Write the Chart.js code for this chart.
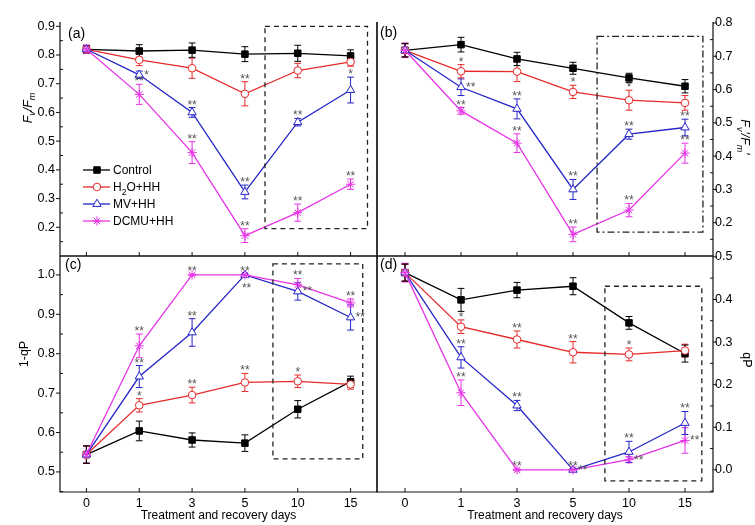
<!DOCTYPE html>
<html>
<head>
<meta charset="utf-8">
<script src="https://cdn.jsdelivr.net/npm/chart.js@4.4.1/dist/chart.umd.min.js"></script>
<style>
  html, body { margin: 0; padding: 0; background: #fff; }
  #wrap { position: relative; width: 755px; height: 525px; }
  #wrap canvas { position: absolute; left: 0; top: 0; }
</style>
</head>
<body>
<div id="wrap">
  <canvas id="pa" width="755" height="525"></canvas>
  <canvas id="pb" width="755" height="525"></canvas>
  <canvas id="pc" width="755" height="525"></canvas>
  <canvas id="pd" width="755" height="525"></canvas>
</div>
<script>
const days = ['0', '1', '3', '5', '10', '15'];
const seriesNames = ['Control', 'H2O+HH', 'MV+HH', 'DCMU+HH'];

// (a) Fv/Fm
const fvfmControl = [0.820, 0.814, 0.817, 0.803, 0.806, 0.797];
const fvfmH2O     = [0.820, 0.783, 0.754, 0.665, 0.746, 0.776];
const fvfmMV      = [0.820, 0.731, 0.600, 0.323, 0.566, 0.678];
const fvfmDCMU    = [0.820, 0.663, 0.460, 0.171, 0.251, 0.350];
const fvfmControlErr = [0.012, 0.022, 0.025, 0.026, 0.028, 0.021];
const fvfmH2OErr     = [0.012, 0.020, 0.035, 0.042, 0.025, 0.015];
const fvfmMVErr      = [0.012, 0.013, 0.017, 0.024, 0.013, 0.045];
const fvfmDCMUErr    = [0.015, 0.035, 0.038, 0.024, 0.030, 0.018];
const fvfmH2OSig  = ['', '', '', '**', '', ''];
const fvfmMVSig   = ['', '*', '**', '**', '**', '*'];
const fvfmDCMUSig = ['', '**', '**', '**', '**', '**'];
const fvfmTicks = [0.2, 0.3, 0.4, 0.5, 0.6, 0.7, 0.8, 0.9];

// (b) Fv'/Fm'
const fvfmpControl = [0.718, 0.735, 0.692, 0.664, 0.635, 0.610];
const fvfmpH2O     = [0.718, 0.655, 0.654, 0.593, 0.568, 0.560];
const fvfmpMV      = [0.718, 0.607, 0.542, 0.300, 0.466, 0.486];
const fvfmpDCMU    = [0.718, 0.536, 0.439, 0.165, 0.238, 0.409];
const fvfmpControlErr = [0.020, 0.022, 0.020, 0.018, 0.014, 0.020];
const fvfmpH2OErr     = [0.020, 0.020, 0.030, 0.020, 0.030, 0.022];
const fvfmpMVErr      = [0.020, 0.025, 0.030, 0.030, 0.015, 0.025];
const fvfmpDCMUErr    = [0.022, 0.010, 0.028, 0.022, 0.020, 0.030];
const fvfmpH2OSig  = ['', '*', '', '*', '*', ''];
const fvfmpMVSig   = ['', '**', '**', '**', '**', '**'];
const fvfmpDCMUSig = ['', '**', '**', '**', '**', '**'];
const fvfmpTicks = [0.2, 0.3, 0.4, 0.5, 0.6, 0.7, 0.8];

// (c) 1-qP
const oneqpControl = [0.544, 0.604, 0.581, 0.573, 0.659, 0.729];
const oneqpH2O     = [0.544, 0.669, 0.695, 0.727, 0.730, 0.722];
const oneqpMV      = [0.544, 0.742, 0.854, 1.000, 0.958, 0.892];
const oneqpDCMU    = [0.544, 0.820, 1.000, 1.000, 0.975, 0.929];
const oneqpControlErr = [0.022, 0.025, 0.018, 0.021, 0.022, 0.014];
const oneqpH2OErr     = [0.022, 0.017, 0.020, 0.023, 0.016, 0.012];
const oneqpMVErr      = [0.022, 0.028, 0.035, 0.003, 0.022, 0.032];
const oneqpDCMUErr    = [0.022, 0.030, 0.002, 0.002, 0.016, 0.010];
const oneqpH2OSig  = ['', '*', '**', '**', '*', ''];
const oneqpMVSig   = ['', '**', '**', '**', '**', '**'];
const oneqpDCMUSig = ['', '**', '**', '**', '**', '**'];
const oneqpTicks = [0.5, 0.6, 0.7, 0.8, 0.9, 1.0];

// (d) qP
const qpControl = [0.463, 0.399, 0.422, 0.431, 0.345, 0.273];
const qpH2O     = [0.463, 0.336, 0.306, 0.276, 0.271, 0.280];
const qpMV      = [0.463, 0.264, 0.151, 0.000, 0.042, 0.110];
const qpDCMU    = [0.463, 0.181, 0.000, 0.000, 0.024, 0.069];
const qpControlErr = [0.020, 0.027, 0.018, 0.020, 0.015, 0.020];
const qpH2OErr     = [0.020, 0.016, 0.020, 0.025, 0.015, 0.015];
const qpMVErr      = [0.020, 0.025, 0.012, 0.003, 0.025, 0.027];
const qpDCMUErr    = [0.022, 0.030, 0.002, 0.003, 0.007, 0.030];
const qpH2OSig  = ['', '*', '**', '**', '*', ''];
const qpMVSig   = ['', '**', '**', '**', '**', '**'];
const qpDCMUSig = ['', '**', '**', '**', '**', '**'];
const qpTicks = [0.0, 0.1, 0.2, 0.3, 0.4, 0.5];

const noSig = ['', '', '', '', '', ''];
const FONT = '"Liberation Sans", Arial, Helvetica, sans-serif';

Chart.defaults.font.family = FONT;
Chart.defaults.color = '#000';

const styles = [
  { color: '#000000', point: 'rect', radius: 4.6, fill: '#000000' },
  { color: '#e62a2a', point: 'circle', radius: 3.8, fill: '#ffffff' },
  { color: '#2424c8', point: 'triangle', radius: 4.8, fill: '#ffffff' },
  { color: '#e633e6', point: 'star', radius: 4.6, fill: '#e633e6' }
];

const italicParts = s => s.map(p => Object.assign({ it: true }, p));

const panels = [
  {
    id: 'pa', side: 'left', showX: false,
    area: { left: 60, top: 22, right: 377, bottom: 256 },
    values: [fvfmControl, fvfmH2O, fvfmMV, fvfmDCMU],
    errors: [fvfmControlErr, fvfmH2OErr, fvfmMVErr, fvfmDCMUErr],
    sigs: [noSig, fvfmH2OSig, fvfmMVSig, fvfmDCMUSig],
    sigSide: { 2: { 1: 'r' } },
    yTicks: fvfmTicks, yMin: 0.1, yMax: 0.915,
    box: [3.38, 5.32, 0.195, 0.9], dash: [5, 4],
    label: '(a)', labelAt: [68, 34],
    title: italicParts([{ t: 'F' }, { t: 'v', sub: true }, { t: '/' }, { t: 'F' }, { t: 'm', sub: true }]),
    titleAt: [27, 108], legend: true
  },
  {
    id: 'pb', side: 'right', showX: false,
    area: { left: 377, top: 22, right: 713, bottom: 256 },
    values: [fvfmpControl, fvfmpH2O, fvfmpMV, fvfmpDCMU],
    errors: [fvfmpControlErr, fvfmpH2OErr, fvfmpMVErr, fvfmpDCMUErr],
    sigs: [noSig, fvfmpH2OSig, fvfmpMVSig, fvfmpDCMUSig],
    sigSide: { 2: { 1: 'r' } },
    yTicks: fvfmpTicks, yMin: 0.1, yMax: 0.803,
    box: [3.43, 5.32, 0.172, 0.76], dash: [7, 3, 2, 3],
    label: '(b)', labelAt: [380, 33],
    title: italicParts([{ t: 'F' }, { t: 'v', sub: true }, { t: '\u2032' }, { t: '/' }, { t: 'F' }, { t: 'm', sub: true }, { t: '\u2032' }]),
    titleAt: [745, 137]
  },
  {
    id: 'pc', side: 'left', showX: true,
    area: { left: 60, top: 256, right: 377, bottom: 492 },
    values: [oneqpControl, oneqpH2O, oneqpMV, oneqpDCMU],
    errors: [oneqpControlErr, oneqpH2OErr, oneqpMVErr, oneqpDCMUErr],
    sigs: [noSig, oneqpH2OSig, oneqpMVSig, oneqpDCMUSig],
    sigSide: { 2: { 3: 'b', 4: 'r', 5: 'r' } },
    yTicks: oneqpTicks, yMin: 0.449, yMax: 1.048,
    box: [3.53, 5.23, 0.533, 1.028], dash: [5, 4],
    label: '(c)', labelAt: [65, 265],
    title: [{ t: '1-qP' }],
    titleAt: [23, 354]
  },
  {
    id: 'pd', side: 'right', showX: true,
    area: { left: 377, top: 256, right: 713, bottom: 492 },
    values: [qpControl, qpH2O, qpMV, qpDCMU],
    errors: [qpControlErr, qpH2OErr, qpMVErr, qpDCMUErr],
    sigs: [noSig, qpH2OSig, qpMVSig, qpDCMUSig],
    sigSide: { 3: { 3: 'r', 4: 'r', 5: 'r' } },
    yTicks: qpTicks, yMin: -0.052, yMax: 0.502,
    box: [3.57, 5.3, -0.026, 0.431], dash: [5, 4],
    label: '(d)', labelAt: [380, 265],
    title: [{ t: 'qP' }],
    titleAt: [747, 360]
  }
];

// text with italic / subscript pieces, drawn around (0,0)
function richText(ctx, parts, size, align) {
  const fonts = parts.map(p => (p.it ? 'italic ' : '') + (p.sub ? size * 0.72 : size) + 'px ' + FONT);
  const widths = parts.map((p, i) => { ctx.font = fonts[i]; return ctx.measureText(p.t).width; });
  const total = widths.reduce((a, b) => a + b, 0);
  let x = align === 'left' ? 0 : -total / 2;
  ctx.textAlign = 'left';
  ctx.textBaseline = 'alphabetic';
  parts.forEach((p, i) => {
    ctx.font = fonts[i];
    ctx.fillText(p.t, x, size * 0.36 + (p.sub ? size * 0.3 : 0));
    x += widths[i];
  });
}

function drawMarker(ctx, st, x, y) {
  ctx.save();
  ctx.strokeStyle = st.color;
  ctx.fillStyle = st.fill;
  ctx.lineWidth = 1;
  Chart.helpers.drawPoint(ctx, { pointStyle: st.point, radius: st.radius, borderWidth: 1, rotation: 0 }, x, y);
  ctx.restore();
}

function panelPlugin(p) {
  return {
    id: 'panelExtras',
    beforeDatasetsDraw(chart) {
      // error bars under the markers
      const ctx = chart.ctx;
      const ys = chart.scales.y;
      ctx.save();
      ctx.lineWidth = 1;
      for (let i = p.values.length - 1; i >= 0; i--) {
        const meta = chart.getDatasetMeta(i);
        ctx.strokeStyle = styles[i].color;
        p.values[i].forEach((v, j) => {
          const e = p.errors[i][j];
          const x = meta.data[j].x;
          const t = ys.getPixelForValue(v + e);
          const b = ys.getPixelForValue(v - e);
          ctx.beginPath();
          ctx.moveTo(x, t); ctx.lineTo(x, b);
          ctx.moveTo(x - 3.4, t); ctx.lineTo(x + 3.4, t);
          ctx.moveTo(x - 3.4, b); ctx.lineTo(x + 3.4, b);
          ctx.stroke();
        });
      }
      ctx.restore();
    },
    afterDatasetsDraw(chart) {
      const ctx = chart.ctx;
      const xs = chart.scales.x;
      const ys = chart.scales.y;
      const a = p.area;
      ctx.save();

      // frame
      ctx.strokeStyle = '#111';
      ctx.lineWidth = 1.2;
      ctx.beginPath();
      ctx.moveTo(a.left, a.top); ctx.lineTo(a.left, a.bottom);
      ctx.lineTo(a.right, a.bottom); ctx.lineTo(a.right, a.top);
      if (p.showX) ctx.lineTo(a.left, a.top);
      ctx.stroke();

      // y ticks: major outward, minor inward
      const axisX = p.side === 'left' ? a.left : a.right;
      const out = p.side === 'left' ? -1 : 1;
      const step = p.yTicks[1] - p.yTicks[0];
      ctx.lineWidth = 1;
      ctx.beginPath();
      p.yTicks.forEach(t => {
        const y = ys.getPixelForValue(t);
        ctx.moveTo(axisX, y); ctx.lineTo(axisX + out * 4, y);
      });
      const minors = p.yTicks.map(t => t + step / 2).concat([p.yTicks[0] - step / 2]);
      minors.forEach(t => {
        if (t <= p.yMin || t >= p.yMax) return;
        const y = ys.getPixelForValue(t);
        ctx.moveTo(axisX, y); ctx.lineTo(axisX - out * 3, y);
      });
      // x ticks inward
      days.forEach((d, j) => {
        const x = xs.getPixelForValue(j);
        ctx.moveTo(x, a.bottom); ctx.lineTo(x, a.bottom - 4);
      });
      ctx.stroke();

      // recovery box
      const [bx0, bx1, by0, by1] = p.box;
      ctx.setLineDash(p.dash);
      ctx.lineWidth = 1.3;
      ctx.strokeStyle = '#222';
      ctx.strokeRect(xs.getPixelForValue(bx0), ys.getPixelForValue(by1),
        xs.getPixelForValue(bx1) - xs.getPixelForValue(bx0),
        ys.getPixelForValue(by0) - ys.getPixelForValue(by1));
      ctx.setLineDash([]);

      // significance marks
      ctx.fillStyle = '#555';
      ctx.font = '12px ' + FONT;
      ctx.textBaseline = 'alphabetic';
      p.sigs.forEach((arr, i) => {
        const meta = chart.getDatasetMeta(i);
        arr.forEach((s, j) => {
          if (!s) return;
          const x = meta.data[j].x;
          const y = meta.data[j].y;
          const side = (p.sigSide[i] || {})[j] || 'a';
          if (side === 'a') {
            ctx.textAlign = 'center';
            ctx.fillText(s, x, ys.getPixelForValue(p.values[i][j] + p.errors[i][j]) + 1);
          } else if (side === 'r') {
            ctx.textAlign = 'left';
            ctx.fillText(s, x + 5, y + 4);
          } else {
            ctx.textAlign = 'left';
            ctx.fillText(s, x - 3, y + 17);
          }
        });
      });

      // panel letter
      ctx.fillStyle = '#000';
      ctx.font = '14px ' + FONT;
      ctx.textAlign = 'left';
      ctx.textBaseline = 'middle';
      ctx.fillText(p.label, p.labelAt[0], p.labelAt[1]);

      // y title
      ctx.save();
      ctx.translate(p.titleAt[0], p.titleAt[1]);
      ctx.rotate(p.side === 'left' ? -Math.PI / 2 : Math.PI / 2);
      richText(ctx, p.title, 12.5);
      ctx.restore();

      // legend
      if (p.legend) {
        const rows = [170, 187, 204, 221];
        styles.forEach((st, i) => {
          const y = rows[i];
          ctx.strokeStyle = st.color;
          ctx.lineWidth = 1.3;
          ctx.beginPath();
          ctx.moveTo(83, y); ctx.lineTo(110, y);
          ctx.stroke();
          drawMarker(ctx, st, 97, y);
          ctx.fillStyle = '#000';
          ctx.save();
          ctx.translate(113, y);
          const parts = i === 1 ? [{ t: 'H' }, { t: '2', sub: true }, { t: 'O+HH' }] : [{ t: seriesNames[i] }];
          richText(ctx, parts, 12, 'left');
          ctx.restore();
        });
      }
      ctx.restore();
    }
  };
}

function makePanel(p) {
  const a = p.area;
  const datasets = p.values.map((vals, i) => ({
    label: seriesNames[i],
    data: vals,
    order: 3 - i,
    borderColor: styles[i].color,
    backgroundColor: styles[i].fill,
    borderWidth: 1.3,
    pointStyle: styles[i].point,
    pointRadius: styles[i].radius,
    pointBorderColor: styles[i].color,
    pointBackgroundColor: styles[i].fill,
    pointBorderWidth: 1,
    tension: 0,
    clip: false
  }));
  const yTicks = p.yTicks;
  return new Chart(document.getElementById(p.id), {
    type: 'line',
    data: { labels: days, datasets },
    options: {
      responsive: false,
      animation: false,
      events: [],
      layout: {
        padding: {
          left: p.side === 'left' ? 0 : a.left,
          right: p.side === 'left' ? 755 - a.right : 0,
          top: a.top,
          bottom: p.showX ? 0 : 525 - a.bottom
        }
      },
      plugins: { legend: { display: false }, tooltip: { enabled: false } },
      scales: {
        x: {
          type: 'category',
          offset: true,
          display: p.showX,
          grid: { display: false, drawTicks: false },
          border: { display: false },
          ticks: { font: { size: 12.5 }, padding: 4, maxRotation: 0, autoSkip: false, color: '#000' },
          title: {
            display: true, text: 'Treatment and recovery days',
            font: { size: 12 }, color: '#000', padding: { top: 0, bottom: 2 }
          },
          afterFit: s => { s.height = p.showX ? 525 - a.bottom : 0; }
        },
        y: {
          position: p.side,
          min: p.yMin,
          max: p.yMax,
          grid: { display: false, drawTicks: false },
          border: { display: false },
          ticks: {
            font: { size: 12.5 }, color: '#000',
            padding: p.side === 'left' ? 5 : 2,
            callback: v => Number(v).toFixed(1)
          },
          afterBuildTicks: s => { s.ticks = yTicks.map(v => ({ value: v })); },
          afterFit: s => { s.width = p.side === 'left' ? a.left : 755 - a.right; }
        }
      }
    },
    plugins: [panelPlugin(p)]
  });
}

panels.forEach(makePanel);
</script>
</body>
</html>
